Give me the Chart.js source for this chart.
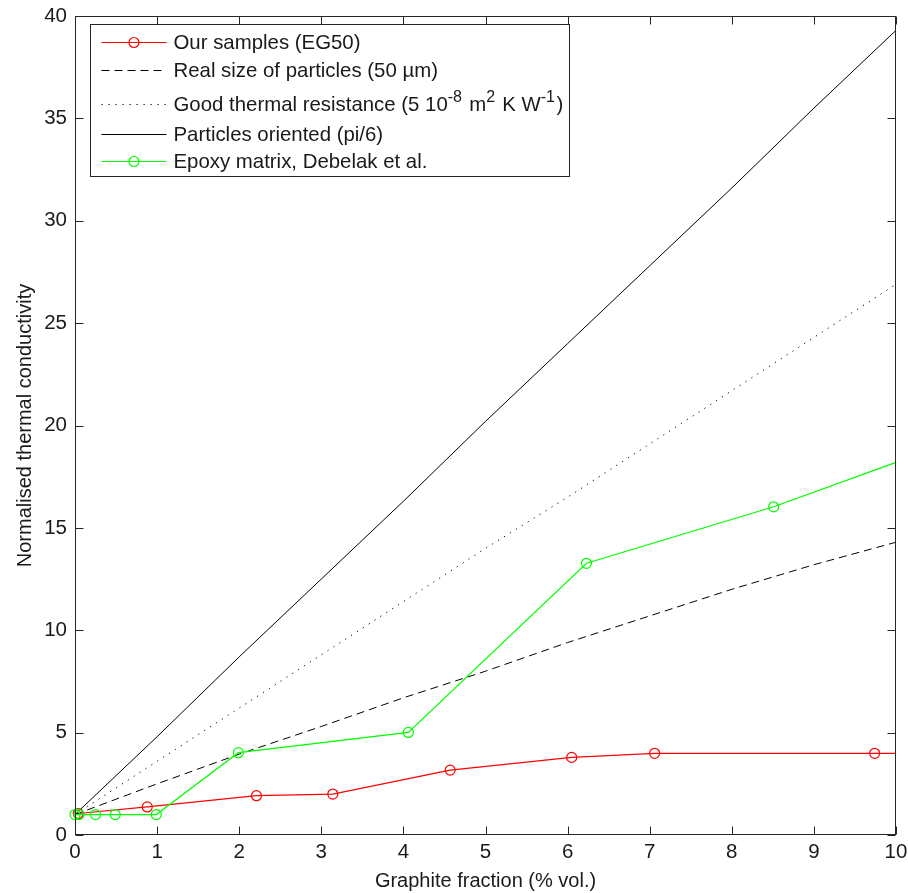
<!DOCTYPE html>
<html>
<head>
<meta charset="utf-8">
<script src="https://cdn.jsdelivr.net/npm/chart.js@4/dist/chart.umd.min.js"></script>
<style>
    html, body { margin: 0; padding: 0; background: #fff; }
    canvas { display: block; }
</style>
</head>
<body>
<canvas id="thermalChart" width="908" height="893"></canvas>
<script>
// tick positions
const xTickValues = [0, 1, 2, 3, 4, 5, 6, 7, 8, 9, 10];
const yTickValues = [0, 5, 10, 15, 20, 25, 30, 35, 40];

const seriesLabels = [
    'Our samples (EG50)',
    'Real size of particles (50 µm)',
    'Good thermal resistance (5 10^{-8} m^{2} K W^{-1})',
    'Particles oriented (pi/6)',
    'Epoxy matrix, Debelak et al.'
];

// measured samples
const samplesX = [0.04, 0.88, 2.21, 3.14, 4.57, 6.05, 7.06, 9.74, 10];
const samplesY = [1.05, 1.37, 1.92, 2.0, 3.17, 3.79, 3.99, 3.99, 3.99];

// literature data
const epoxyX = [0, 0.05, 0.25, 0.49, 0.99, 1.99, 4.06, 6.23, 8.51, 10];
const epoxyY = [1.0, 1.0, 1.0, 1.0, 1.0, 4.02, 5.01, 13.27, 16.03, 18.2];

// model curves
const modelX = [0, 1, 2, 3, 4, 5, 6, 7, 8, 9, 10];
const realSizeY = [1.0, 2.5, 3.95, 5.3, 6.7, 8.0, 9.4, 10.7, 12.0, 13.2, 14.3];
const goodResistanceY = [1.0, 3.6, 6.2, 8.8, 11.4, 14.0, 16.5, 19.1, 21.7, 24.3, 26.9];
const orientedY = [1.0, 4.8, 8.7, 12.5, 16.3, 20.2, 24.0, 27.8, 31.6, 35.5, 39.3];

const FONT = "'Liberation Sans', Arial, sans-serif";
const AXIS_COLOR = '#262626';
const TEXT_COLOR = '#1a1a1a';

function xy(xs, ys) { return xs.map((x, i) => ({ x, y: ys[i] })); }

const LEGEND_STYLE = [
    { color: '#ff0000', dash: [], marker: true },
    { color: '#000000', dash: [8, 5], marker: false },
    { color: '#000000', dash: [1.2, 5.8], marker: false },
    { color: '#000000', dash: [], marker: false },
    { color: '#00ff00', dash: [], marker: true }
];

// text with ^{...} superscripts; returns width if draw is false
function richText(ctx, text, x, baseline, draw) {
    const parts = text.split(/\^\{([^}]*)\}/);
    const x0 = x;
    parts.forEach((p, i) => {
        if (!p) return;
        const sup = i % 2 === 1;
        ctx.font = (sup ? '16px ' : '20.4px ') + FONT;
        if (draw) ctx.fillText(p, x, sup ? baseline - 9 : baseline);
        x += ctx.measureText(p).width + (sup ? 1.5 : 0);
    });
    return x - x0;
}

const matlabFrame = {
    id: 'matlabFrame',
    afterDatasetsDraw(chart) {
        const { ctx, chartArea: a, scales: { x, y } } = chart;
        const L = Math.round(a.left) + 0.5, R = Math.round(a.right) - 0.5;
        const T = Math.round(a.top) + 0.5, B = Math.round(a.bottom) - 0.5;
        const tl = 8;
        ctx.save();
        ctx.strokeStyle = AXIS_COLOR;
        ctx.lineWidth = 1;
        ctx.setLineDash([]);
        ctx.strokeRect(L, T, R - L, B - T);
        ctx.beginPath();
        xTickValues.forEach(v => {
            const px = Math.round(x.getPixelForValue(v)) + 0.5;
            ctx.moveTo(px, B); ctx.lineTo(px, B - tl);
            ctx.moveTo(px, T); ctx.lineTo(px, T + tl);
        });
        yTickValues.forEach(v => {
            const py = Math.round(y.getPixelForValue(v)) + 0.5;
            ctx.moveTo(L, py); ctx.lineTo(L + tl, py);
            ctx.moveTo(R, py); ctx.lineTo(R - tl, py);
        });
        ctx.stroke();

        // legend box
        const bl = Math.round(a.left) + 15.5, bt = Math.round(a.top) + 8.5;
        const textX = bl + 83;
        let maxW = 0;
        seriesLabels.forEach(s => { maxW = Math.max(maxW, richText(ctx, s, 0, 0, false)); });
        const br = Math.round(textX + maxW + 6) + 0.5;
        const bb = bt + 152;
        ctx.fillStyle = '#ffffff';
        ctx.fillRect(bl, bt, br - bl, bb - bt);
        ctx.strokeStyle = AXIS_COLOR;
        ctx.strokeRect(bl, bt, br - bl, bb - bt);

        let rowY = bt + 17.5;
        seriesLabels.forEach((label, i) => {
            const sup = label.includes('^{');
            if (sup) rowY += 7;
            const st = LEGEND_STYLE[i];
            ctx.strokeStyle = st.color;
            ctx.lineWidth = st.marker ? 1.2 : 1;
            ctx.setLineDash(st.dash);
            ctx.beginPath();
            ctx.moveTo(bl + 11, Math.round(rowY) + 0.5);
            ctx.lineTo(bl + 76, Math.round(rowY) + 0.5);
            ctx.stroke();
            ctx.setLineDash([]);
            if (st.marker) {
                ctx.beginPath();
                ctx.arc(bl + 43.5, Math.round(rowY) + 0.5, 5, 0, Math.PI * 2);
                ctx.stroke();
            }
            ctx.fillStyle = TEXT_COLOR;
            ctx.textBaseline = 'alphabetic';
            ctx.textAlign = 'left';
            richText(ctx, label, textX, rowY + 7, true);
            rowY += 27.7 + (sup ? 1.5 : 0);
        });
        ctx.restore();
    }
};

const ctx = document.getElementById('thermalChart').getContext('2d');

new Chart(ctx, {
    type: 'line',
    data: {
        datasets: [
            {
                label: seriesLabels[0],
                data: xy(samplesX, samplesY),
                borderColor: '#ff0000',
                borderWidth: 1.2,
                pointRadius: samplesX.map(v => v >= 10 ? 0 : 5),
                pointBorderColor: '#ff0000',
                pointBackgroundColor: 'rgba(0,0,0,0)',
                pointBorderWidth: 1.2,
                order: 4,
                clip: false
            },
            {
                label: seriesLabels[1],
                data: xy(modelX, realSizeY),
                borderColor: '#000000',
                borderWidth: 1,
                borderDash: [8, 5],
                pointRadius: 0,
                order: 3
            },
            {
                label: seriesLabels[2],
                data: xy(modelX, goodResistanceY),
                borderColor: '#000000',
                borderWidth: 1,
                borderDash: [1.2, 5.8],
                pointRadius: 0,
                order: 2
            },
            {
                label: seriesLabels[3],
                data: xy(modelX, orientedY),
                borderColor: '#000000',
                borderWidth: 1,
                pointRadius: 0,
                order: 1
            },
            {
                label: seriesLabels[4],
                data: xy(epoxyX, epoxyY),
                borderColor: '#00ff00',
                borderWidth: 1.2,
                pointRadius: epoxyX.map(v => v >= 10 ? 0 : 5),
                pointBorderColor: '#00ff00',
                pointBackgroundColor: 'rgba(0,0,0,0)',
                pointBorderWidth: 1.2,
                order: 0,
                clip: false
            }
        ]
    },
    options: {
        responsive: false,
        animation: false,
        devicePixelRatio: 1,
        events: [],
        layout: { padding: { top: 16, right: 12, left: 0, bottom: 0 } },
        plugins: {
            legend: { display: false },
            tooltip: { enabled: false }
        },
        scales: {
            x: {
                type: 'linear',
                min: 0,
                max: 10,
                afterBuildTicks: s => { s.ticks = xTickValues.map(v => ({ value: v })); },
                afterFit: s => { s.height = 58; s.paddingLeft = 0; s.paddingRight = 0; },
                grid: { display: false, drawTicks: false },
                border: { display: false },
                ticks: { color: TEXT_COLOR, font: { family: FONT, size: 20.5 }, padding: 5, maxRotation: 0 },
                title: {
                    display: true,
                    text: 'Graphite fraction (% vol.)',
                    color: TEXT_COLOR,
                    font: { family: FONT, size: 20 },
                    padding: { top: 0, bottom: 0 }
                }
            },
            y: {
                type: 'linear',
                min: 0,
                max: 40,
                afterBuildTicks: s => { s.ticks = yTickValues.map(v => ({ value: v })); },
                afterFit: s => { s.width = 75; s.paddingTop = 0; s.paddingBottom = 0; },
                grid: { display: false, drawTicks: false },
                border: { display: false },
                ticks: { color: TEXT_COLOR, font: { family: FONT, size: 20.5 }, padding: 8 },
                title: {
                    display: true,
                    text: 'Normalised thermal conductivity',
                    color: TEXT_COLOR,
                    font: { family: FONT, size: 20 },
                    padding: { top: 13, bottom: 0 }
                }
            }
        }
    },
    plugins: [matlabFrame]
});
</script>
</body>
</html>
